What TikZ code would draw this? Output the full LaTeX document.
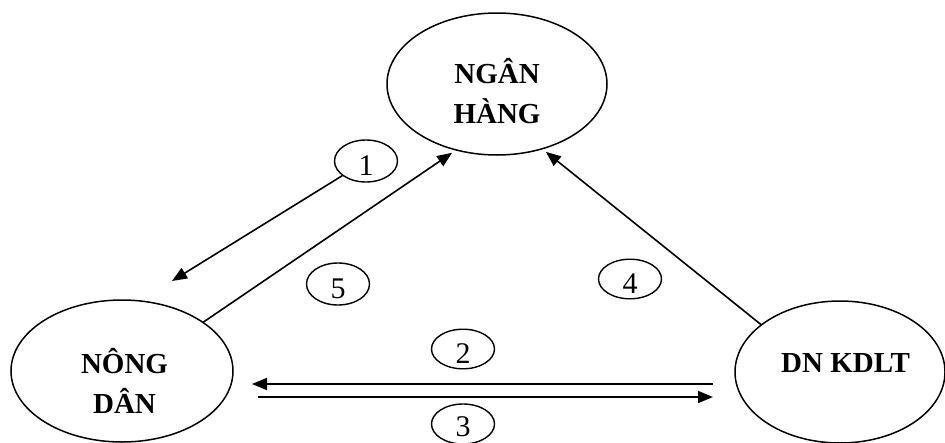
\documentclass[tikz,border=0pt]{standalone}
\usepackage{fontspec}
\setmainfont{Liberation Serif}
\usetikzlibrary{shapes.geometric,arrows.meta}
\begin{document}
\begin{tikzpicture}[x=1pt,y=-1pt,
  party/.style={draw, ellipse, line width=1.5pt, inner sep=0pt},
  partyname/.style={font=\bfseries\fontsize{29}{40}\selectfont, align=center, inner sep=0pt, anchor=base},
  stepno/.style={draw, ellipse, line width=1.4pt, inner sep=0pt,
    minimum width=63pt, minimum height=42pt,
    font=\fontsize{30}{32}\selectfont, text height=28pt, text depth=0pt},
  flow/.style={line width=1.6pt, -{Triangle[length=15pt,width=12pt]}}]
\useasboundingbox (0,0) rectangle (945,442);

% the three parties
\node[party, minimum width=220pt, minimum height=142pt] (ng) at (497,84) {};
\node[party, minimum width=222pt, minimum height=142pt] (nd) at (122,371) {};
\node[party, minimum width=210pt, minimum height=142pt] (dn) at (840,372) {};

% names (base anchor sits on the last line)
\node[partyname] (ngt) at (497,123) {NGÂN\\HÀNG};
\node[partyname] (ndt) at (124.5,413) {NÔNG\\DÂN};
\node[partyname] (dnt) at (845.5,372) {DN KDLT};

% numbered steps
\node[stepno] (e1) at (366,161) {1};
\node[stepno] (e5) at (338,284) {5};
\node[stepno, minimum height=34pt] (e4) at (630,279) {4};
\node[stepno, minimum height=38pt] (e2) at (463,349) {2};
\node[stepno, minimum height=40pt, text height=24pt] (e3) at (463,424) {3};

% free ends of the flows
\coordinate (t1) at (172,281);
\coordinate (s2) at (713,384);
\coordinate (t2) at (252,384);
\coordinate (s3) at (258,397);
\coordinate (t3) at (713,397);

% flows
\draw[flow] (e1) -- (t1);
\draw[flow, shorten >=4pt] (nd.31.6) -- (ng.238);
\draw[flow, shorten >=4pt] (dn.149) -- (ng.305);
\draw[flow] (s2) -- (t2);
\draw[flow] (s3) -- (t3);
\end{tikzpicture}
\end{document}
